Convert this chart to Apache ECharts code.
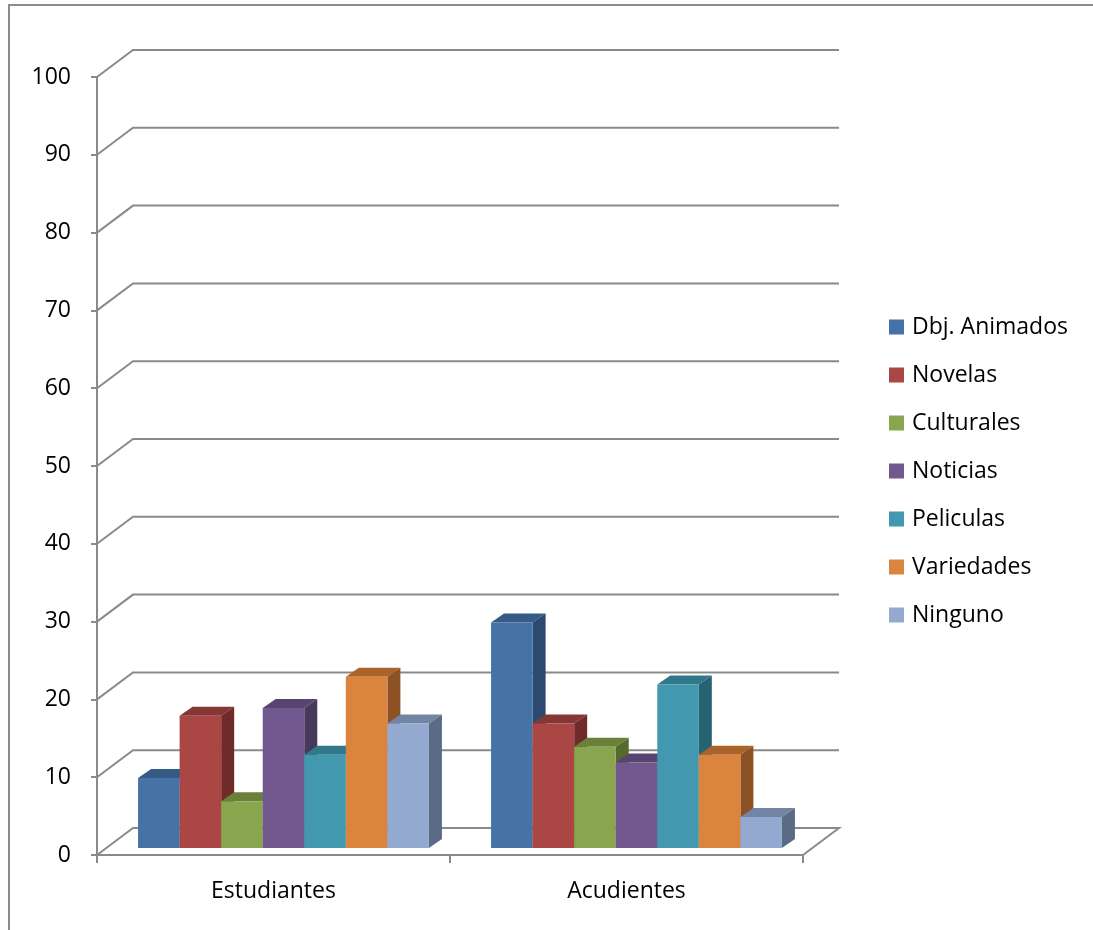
<!DOCTYPE html>
<html>
<head>
<meta charset="utf-8">
<script src="https://cdn.jsdelivr.net/npm/echarts@6/dist/echarts.min.js"></script>
<style>
html,body{margin:0;padding:0;background:#fff;}
#c{width:1093px;height:930px;}
</style>
</head>
<body>
<div id="c"></div>
<script>
const categories = ['Estudiantes', 'Acudientes'];
const seriesNames = ['Dbj. Animados', 'Novelas', 'Culturales', 'Noticias', 'Peliculas', 'Variedades', 'Ninguno'];
const dbjAnimados = [9, 29];
const novelas = [17, 16];
const culturales = [6, 13];
const noticias = [18, 11];
const peliculas = [12, 21];
const variedades = [22, 12];
const ninguno = [16, 4];
const yTicks = [0, 10, 20, 30, 40, 50, 60, 70, 80, 90, 100];

const seriesValues = [dbjAnimados, novelas, culturales, noticias, peliculas, variedades, ninguno];
const faceColors = [
  {front: '#4572A7', top: '#365A86', side: '#2C4A6E'},
  {front: '#AA4643', top: '#863634', side: '#6E2B29'},
  {front: '#89A54E', top: '#6B813A', side: '#576A2E'},
  {front: '#71588F', top: '#594471', side: '#48385C'},
  {front: '#4198AF', top: '#32788B', side: '#276273'},
  {front: '#DB843D', top: '#AA642B', side: '#8C5124'},
  {front: '#93A9CF', top: '#7385A4', side: '#5C6B85'}
];

const FONT = "'Open Sans', sans-serif";
const FS = 23;
const LINE = '#8a8a8a';
const WALL = {dx: 36, dy: -27};
const BF = {dx: 10, dy: -7};
const BB = {dx: 23, dy: -16};
const GROUP = 0.824;
const N = seriesNames.length;

const chart = echarts.init(document.getElementById('c'), null, {renderer: 'canvas'});

function barRender(idx) {
  const c = faceColors[idx];
  return function (params, api) {
    const cat = api.value(0);
    const v = api.value(1);
    const base = api.coord([cat, 0]);
    const top = api.coord([cat, v]);
    const band = api.size([1, 0])[0];
    const bw = band * GROUP / N;
    const x0 = base[0] - band * GROUP / 2 + idx * bw + BF.dx;
    const x1 = x0 + bw;
    const yb = base[1] + BF.dy;
    const yt = top[1] + BF.dy;
    const ddx = BB.dx - BF.dx, ddy = BB.dy - BF.dy;
    return {
      type: 'group',
      children: [
        {type: 'polygon', shape: {points: [[x0, yt], [x1, yt], [x1 + ddx, yt + ddy], [x0 + ddx, yt + ddy]]}, style: {fill: c.top}},
        {type: 'polygon', shape: {points: [[x1, yt], [x1 + ddx, yt + ddy], [x1 + ddx, yb + ddy], [x1, yb]]}, style: {fill: c.side}},
        {type: 'rect', shape: {x: x0, y: yt, width: bw, height: yb - yt}, style: {fill: c.front}}
      ]
    };
  };
}

function wallRender(params, api) {
  const cs = params.coordSys;
  const p = api.coord([0, api.value(1)]);
  const y = p[1];
  const xl = cs.x, xr = cs.x + cs.width;
  const pts = [[xl, y], [xl + WALL.dx, y + WALL.dy], [xr + WALL.dx, y + WALL.dy]];
  if (api.value(1) === 0) pts.push([xr, y]);
  return {
    type: 'polyline',
    shape: {points: pts},
    style: {stroke: LINE, lineWidth: 2, fill: null}
  };
}

const series = seriesNames.map((name, i) => ({
  name: name,
  type: 'custom',
  z: 3,
  itemStyle: {color: faceColors[i].front},
  renderItem: barRender(i),
  data: seriesValues[i].map((v, k) => [k, v])
}));
series.push({
  name: 'wall',
  type: 'custom',
  z: 1,
  silent: true,
  renderItem: wallRender,
  data: yTicks.map(t => [0, t])
});

chart.setOption({
  animation: false,
  backgroundColor: '#fff',
  textStyle: {fontFamily: FONT},
  graphic: [{
    type: 'rect',
    shape: {x: 9, y: 5, width: 1100, height: 940},
    style: {fill: null, stroke: '#8c8c8c', lineWidth: 2},
    z: 0
  }],
  grid: {left: 97, top: 77, width: 706, height: 778, containLabel: false},
  legend: {
    orient: 'vertical',
    left: 889,
    top: 315,
    padding: 0,
    itemWidth: 15,
    itemHeight: 15,
    itemGap: 24,
    icon: 'rect',
    data: seriesNames,
    textStyle: {fontFamily: FONT, fontSize: FS, color: '#000', lineHeight: 24, padding: [0, 0, 0, 3]}
  },
  xAxis: {
    type: 'category',
    data: categories,
    axisLine: {show: true, lineStyle: {color: LINE, width: 2}},
    axisTick: {show: true, length: 8, lineStyle: {color: LINE, width: 2}},
    axisLabel: {fontFamily: FONT, fontSize: FS, color: '#000', margin: 25},
    splitLine: {show: false}
  },
  yAxis: {
    type: 'value',
    min: 0,
    max: 100,
    interval: 10,
    axisLine: {show: true, lineStyle: {color: LINE, width: 2}},
    axisTick: {show: true, length: 6, lineStyle: {color: LINE, width: 2}},
    axisLabel: {fontFamily: FONT, fontSize: FS, color: '#000', margin: 26},
    splitLine: {show: false}
  },
  series: series
});
</script>
</body>
</html>
